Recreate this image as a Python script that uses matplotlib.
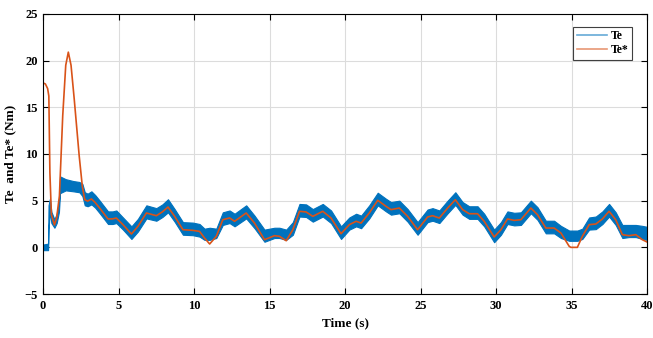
import numpy as np
import matplotlib
matplotlib.use("Agg")
import matplotlib.pyplot as plt
from matplotlib.lines import Line2D

plt.rcParams['font.family'] = ['Liberation Serif', 'DejaVu Serif']
plt.rcParams['font.weight'] = 'bold'

# reference torque Te* (orange)
t_ref = [0, 0.15, 0.3, 0.38, 0.45, 0.55, 0.75, 0.9, 1.08, 1.3, 1.5, 1.67, 1.85, 2.06, 2.39,
         2.6, 2.76, 2.95, 3.2, 3.45, 3.75, 4.3, 4.6, 4.85, 5.29, 5.85, 6.28, 6.84, 7.5, 7.9,
         8.27, 8.71, 9.26, 9.92, 10.36, 10.69, 11.03, 11.47, 11.9, 12.35, 12.68, 13.45, 14.0,
         14.66, 15.32, 15.65, 16.1, 16.54, 16.98, 17.42, 17.86, 18.52, 19.07, 19.73, 20.28,
         20.73, 21.06, 21.6, 22.16, 22.71, 23.04, 23.59, 24.14, 24.8, 25.46, 25.79, 26.24,
         26.79, 27.3, 27.78, 28.22, 28.77, 29.21, 29.87, 30.32, 30.75, 31.2, 31.64, 32.3,
         32.74, 33.29, 33.84, 34.29, 34.84, 34.95, 35.38, 35.71, 36.16, 36.6, 37.04, 37.48,
         37.92, 38.36, 38.8, 39.25, 39.68, 40]
te_ref = [17.6, 17.5, 17.0, 16.2, 8.0, 3.5, 2.4, 3.2, 5.5, 14.1, 19.5, 20.9, 19.5, 15.9, 9.8,
          6.5, 5.1, 4.95, 5.18, 4.8, 4.2, 3.04, 3.05, 3.14, 2.43, 1.43, 2.25, 3.68, 3.39, 3.8,
          4.32, 3.32, 1.89, 1.82, 1.71, 1.0, 0.36, 1.18, 2.96, 3.15, 2.79, 3.68, 2.6,
          0.82, 1.25, 1.18, 0.71, 1.89, 3.86, 3.79, 3.32, 3.86, 3.14, 1.46, 2.43,
          2.79, 2.6, 3.68, 5.04, 4.39, 4.04, 4.21, 3.32, 1.89, 3.25, 3.39, 3.14,
          4.21, 5.1, 4.04, 3.6, 3.6, 2.79, 1.11, 1.89, 3.04, 2.89, 2.96, 4.21,
          3.5, 2.07, 2.07, 1.54, 0.11, 0.0, 0.0, 1.18, 2.43, 2.5, 3.04, 3.86,
          2.96, 1.36, 1.25, 1.36, 0.82, 0.57]

# measured torque Te (blue), lower / upper edge of the noisy band
t_te = [0, 0.33, 0.36, 0.45, 0.55, 0.75, 0.9, 1.05, 1.12, 1.5, 2.0, 2.4, 2.6,
        2.76, 2.95, 3.2, 3.45, 3.75, 4.3, 4.6, 4.85, 5.29, 5.85, 6.28, 6.84, 7.5, 7.9,
        8.27, 8.71, 9.26, 9.92, 10.36, 10.69, 11.03, 11.47, 11.9, 12.35, 12.68, 13.45, 14.0,
        14.66, 15.32, 15.65, 16.1, 16.54, 16.98, 17.42, 17.86, 18.52, 19.07, 19.73, 20.28,
        20.73, 21.06, 21.6, 22.16, 22.71, 23.04, 23.59, 24.14, 24.8, 25.46, 25.79, 26.24,
        26.79, 27.3, 27.78, 28.22, 28.77, 29.21, 29.87, 30.32, 30.75, 31.2, 31.64, 32.3,
        32.74, 33.29, 33.84, 34.29, 34.84, 34.95, 35.38, 35.71, 36.16, 36.6, 37.04, 37.48,
        37.92, 38.36, 38.8, 39.25, 39.68, 40]
te_lo = [-0.3, -0.3, 2.0, 3.8, 2.6, 2.1, 2.6, 3.8, 5.8, 6.1, 6.0, 5.9, 5.5,
         4.5, 4.4, 4.6, 4.25, 3.65, 2.5, 2.5, 2.6, 1.9, 0.9, 1.7, 3.1, 2.85, 3.25,
         3.75, 2.75, 1.35, 1.3, 1.15, 0.8, 0.8, 1.0, 2.4, 2.6, 2.25, 3.1, 2.05,
         0.6, 1.0, 1.0, 0.8, 1.35, 3.3, 3.25, 2.75, 3.3, 2.6, 0.9, 1.9,
         2.25, 2.05, 3.1, 4.5, 3.85, 3.5, 3.65, 2.75, 1.35, 2.7, 2.85, 2.6,
         3.65, 4.55, 3.5, 3.05, 3.05, 2.25, 0.55, 1.35, 2.5, 2.35, 2.4, 3.65,
         2.95, 1.5, 1.5, 1.0, 0.7, 0.7, 0.7, 0.9, 1.9, 1.95, 2.5, 3.3,
         2.4, 1.0, 1.1, 1.1, 0.9, 0.8]
te_hi = [0.3, 0.4, 4.5, 5.2, 3.8, 3.0, 3.6, 4.9, 7.6, 7.3, 7.1, 7.0, 6.8,
         5.9, 5.75, 6.0, 5.6, 5.0, 3.85, 3.85, 3.95, 3.2, 2.25, 3.05, 4.5, 4.2, 4.6,
         5.15, 4.1, 2.7, 2.65, 2.5, 2.0, 2.1, 2.0, 3.75, 3.95, 3.6, 4.5, 3.4,
         1.9, 2.1, 2.1, 1.9, 2.7, 4.65, 4.6, 4.1, 4.65, 3.95, 2.25, 3.2,
         3.6, 3.4, 4.5, 5.85, 5.2, 4.85, 5.0, 4.1, 2.7, 4.05, 4.2, 3.95,
         5.0, 5.9, 4.85, 4.4, 4.4, 3.6, 1.9, 2.7, 3.85, 3.7, 3.75, 5.0,
         4.3, 2.85, 2.85, 2.3, 1.8, 1.8, 1.8, 2.0, 3.2, 3.3, 3.85, 4.65,
         3.75, 2.4, 2.4, 2.4, 2.3, 2.2]

blue = '#0072BD'
orange = '#D95319'

fig = plt.figure(figsize=(6.53, 3.38), dpi=100)
ax = fig.add_axes([0.066, 0.130, 0.925, 0.829])

ax.fill_between(t_te, te_lo, te_hi, color=blue, lw=0.8, edgecolor=blue)
ax.plot(t_ref, te_ref, color=orange, lw=1.2)

ax.set_xlim(0, 40)
ax.set_ylim(-5, 25)
ax.set_xticks(np.arange(0, 41, 5))
ax.set_yticks(np.arange(-5, 26, 5))
ax.grid(True, color='#dcdcdc', lw=0.8)
ax.set_axisbelow(True)
ax.tick_params(direction='in', top=True, right=True, labelsize=9, length=4, width=0.8,
               pad=4)
for lab in ax.get_xticklabels() + ax.get_yticklabels():
    lab.set_fontweight('bold')
for s in ax.spines.values():
    s.set_linewidth(0.8)

ax.set_xlabel('Time (s)', fontsize=9.5, fontweight='bold', labelpad=4)
ax.set_ylabel('Te  and Te* (Nm)', fontsize=9.5, fontweight='bold', labelpad=6)

handles = [Line2D([], [], color=blue, lw=1.2, alpha=0.6),
           Line2D([], [], color=orange, lw=1.2, alpha=0.6)]
leg = ax.legend(handles, ['Te', 'Te*'], loc='upper right', fancybox=False,
                framealpha=1, edgecolor='#404040', fontsize=8.5, handlelength=2.6,
                handletextpad=0.3, borderpad=0.3, labelspacing=0.15,
                bbox_to_anchor=(0.985, 0.975))
leg.get_frame().set_linewidth(0.8)
for txt in leg.get_texts():
    txt.set_fontweight('bold')

fig.savefig('out.png', dpi=100)
